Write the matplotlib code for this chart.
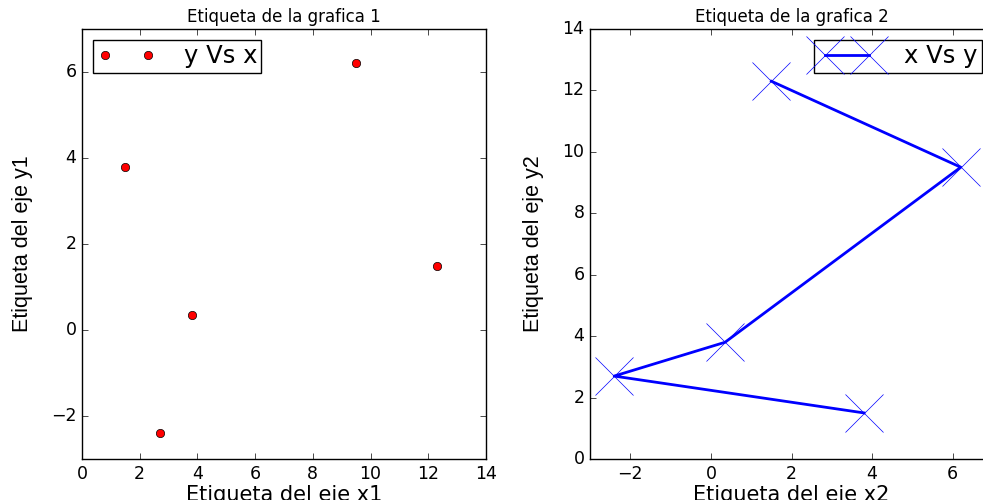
import matplotlib
matplotlib.use("Agg")
import matplotlib.pyplot as plt

plt.style.use('classic')

# datos
x = [12.3, 9.5, 3.8, 2.7, 1.5]
y = [1.5, 6.2, 0.35, -2.4, 3.8]

plt.rcParams['xtick.labelsize'] = 12.5
plt.rcParams['ytick.labelsize'] = 12.5

fig = plt.figure(figsize=(9.83, 5.0), dpi=100)
fig.patch.set_facecolor('white')

narrow = ['Liberation Sans Narrow', 'Liberation Sans', 'DejaVu Sans']
leg_kw = dict(fontsize=17.5, borderpad=0.18, handlelength=2.4, handletextpad=1.15,
              borderaxespad=0.45)

# grafica 1
ax1 = fig.add_axes([82 / 983, 41 / 500, 404 / 983, 430 / 500])
ax1.plot(x, y, 'ro', label='y Vs x')
ax1.set_xlim(0, 14)
ax1.set_ylim(-3, 7)
ax1.set_title('Etiqueta de la grafica 1', fontsize=12)
ax1.set_xlabel('Etiqueta del eje x1', fontsize=15, labelpad=2)
ax1.set_ylabel('Etiqueta del eje y1', fontsize=15.5, family=narrow, labelpad=13)
ax1.legend(loc='upper left', **leg_kw)

# grafica 2
ax2 = fig.add_axes([590 / 983, 41 / 500, 403 / 983, 430 / 500])
ax2.plot(y, x, 'b-x', lw=2, markersize=27, label='x Vs y')
ax2.set_xlim(-3, 7)
ax2.set_ylim(0, 14)
ax2.set_title('Etiqueta de la grafica 2', fontsize=12)
ax2.set_xlabel('Etiqueta del eje x2', fontsize=15, labelpad=2)
ax2.set_ylabel('Etiqueta del eje y2', fontsize=15.5, family=narrow, labelpad=13)
ax2.legend(loc='upper right', **leg_kw)

fig.savefig('out.png', dpi=100, facecolor='white')
